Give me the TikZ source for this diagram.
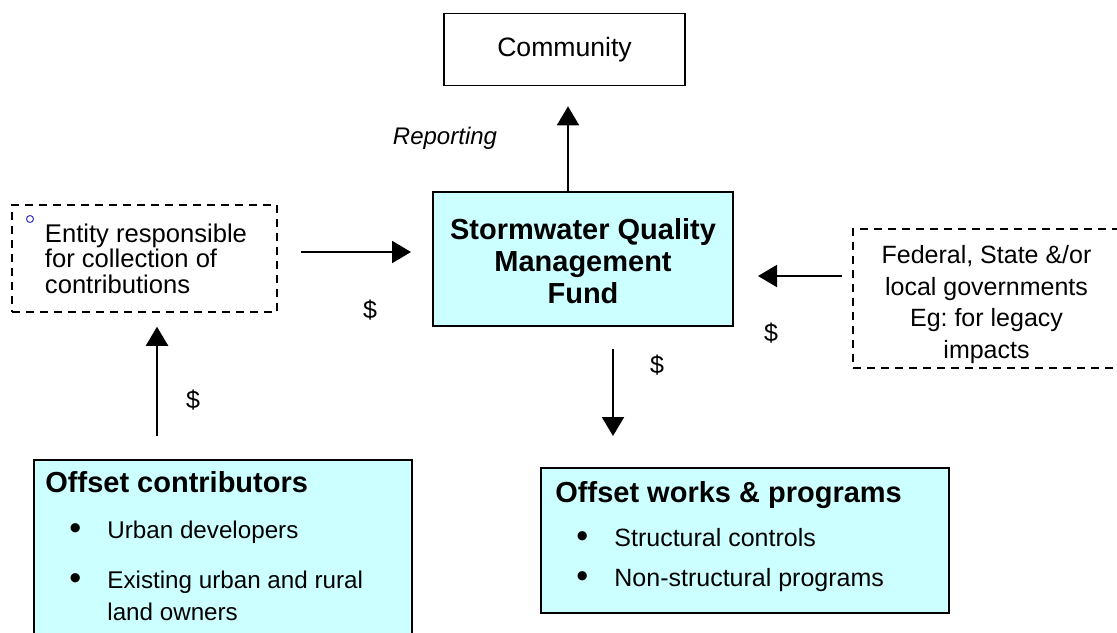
\documentclass[tikz,border=0pt]{standalone}
\usepackage{fontspec}
\setmainfont{Liberation Sans}
\usetikzlibrary{arrows.meta}
\frenchspacing
\definecolor{fundcyan}{HTML}{CCFFFF}
\definecolor{ringblue}{HTML}{3333CC}
\newcommand{\bul}{\makebox[19pt][l]{\raisebox{-0.5pt}{\fontsize{17}{17}\selectfont\textbullet}}}
\newcommand{\nobul}{\makebox[19pt][l]{}}
\tikzset{
  fundbox/.style={draw=black,line width=1pt,fill=fundcyan,inner sep=0pt},
  plainbox/.style={draw=black,line width=0.8pt,inner sep=0pt},
  dashbox/.style={draw=black,line width=0.75pt,dash pattern=on 4pt off 3pt,inner sep=0pt},
  headtext/.style={inner sep=0pt,font=\fontsize{14.5}{16}\selectfont\bfseries},
  listtext/.style={inner sep=0pt,align=left,font=\fontsize{12.5}{16}\selectfont},
  money/.style={font=\fontsize{12.5}{14}\selectfont},
  flow/.style={-{Triangle[length=9.5pt,width=11pt]},line width=1pt}
}
\begin{document}
\begin{tikzpicture}[x=0.5pt,y=-0.5pt]
\useasboundingbox(0,0)rectangle(1117,632);
\clip(0,0)rectangle(1117,632);
% boxes
\node[plainbox,minimum width=120.5pt,minimum height=36pt,font=\fontsize{13.3}{16}\selectfont](community)at(564.5,49.5){Community};
\node[fundbox,minimum width=150pt,minimum height=67pt,align=center,font=\fontsize{14.5}{16}\selectfont\bfseries](fund)at(583,259){\rule{0pt}{12.6pt}Stormwater Quality\\Management\\Fund};
\node[dashbox,minimum width=132.5pt,minimum height=53.5pt,align=left,font=\fontsize{12.8}{12.8}\selectfont](collect)at(144.5,258.5){\hspace*{1.5pt}Entity responsible\\\hspace*{1.5pt}for collection of\\\hspace*{1.5pt}contributions};
\node[circle,draw=ringblue,line width=0.5pt,minimum size=3.5pt,inner sep=0pt](ring)at(30,219){};
\node[dashbox,minimum width=133.5pt,minimum height=69.5pt,align=center,font=\fontsize{12.5}{15.75}\selectfont](govt)at(986.5,298.5){\rule{0pt}{15.3pt}Federal, State \&/or\\local governments\\Eg: for legacy\\impacts};
\node[fundbox,anchor=north west,minimum width=189pt,minimum height=96pt](payers)at(33,459){};
\node[fundbox,minimum width=204pt,minimum height=72.5pt](works)at(745,540.5){};
% box contents
\node[headtext,anchor=west](payershead)at(45,482){Offset contributors};
\node[listtext,anchor=north west,font=\fontsize{12.1}{16}\selectfont](payerslist)at(69,521){\bul Urban developers\\[9pt]\bul Existing urban and rural\\\nobul land owners};
\node[headtext,anchor=west](workshead)at(555,495){Offset works \& programs};
\node[listtext,anchor=north west](workslist)at(576,528){\bul Structural controls\\[4pt]\bul Non-structural programs};
% flows
\draw[flow,shorten >=10pt]([xshift=-7.5pt]fund.north)--([xshift=-7.5pt]fund.north|-community.south);
\draw[flow,shorten <=11.5pt,shorten >=10.5pt]([yshift=3.25pt]collect.east)--([yshift=3.25pt]collect.east-|fund.west);
\draw[flow,shorten <=5pt,shorten >=12pt]([yshift=11.25pt]govt.west)--([yshift=11.25pt]govt.west-|fund.east);
\draw[flow,shorten <=11pt,shorten >=15.5pt]([xshift=15pt]fund.south)--([xshift=15pt]fund.south|-works.north);
\draw[flow,shorten <=11.5pt,shorten >=7pt]([xshift=6.25pt]collect.south|-payers.north)--([xshift=6.25pt]collect.south);
% labels
\node[font=\fontsize{12}{14}\selectfont\itshape](reporting)at(445,138){Reporting};
\node[money](cashin)at(370,310){\$};
\node[money](cashgov)at(771,333){\$};
\node[money](cashout)at(657,365){\$};
\node[money](cashup)at(193,400){\$};
\end{tikzpicture}
\end{document}
